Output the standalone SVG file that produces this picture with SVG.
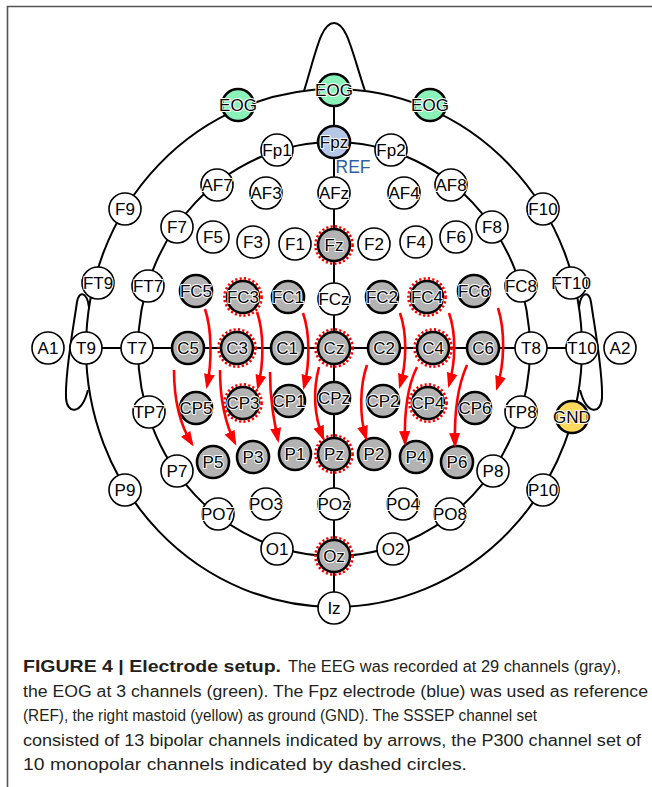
<svg xmlns="http://www.w3.org/2000/svg" width="652" height="787" viewBox="0 0 652 787">
<defs>
<style>
.ln{fill:none;stroke:#000;stroke-width:2}
.nd circle{fill:#fff;stroke:#000;stroke-width:1.6}
.nd.g circle{fill:#b3b3b3;stroke-width:2.6}
.nd.e circle{fill:#8af2b9;stroke-width:2.6}
.nd.b circle{fill:#b4c7e7;stroke-width:2.6}
.nd.y circle{fill:#fdd85e;stroke-width:2.6}
.nd circle.d{fill:none;stroke:#ff0000;stroke-width:2.6;stroke-dasharray:2.2 2.2}
.nd text{font-family:"Liberation Sans",Arial,sans-serif;font-size:17px;text-anchor:middle;fill:#000;stroke:#fff;stroke-width:2;stroke-linejoin:round;paint-order:stroke}
.ar{fill:none;stroke:#ff0000;stroke-width:2.6;marker-end:url(#ah)}
.cap{font-family:"Liberation Sans",Arial,sans-serif;font-size:17.3px;fill:#231f20}
</style>
<marker id="ah" markerUnits="userSpaceOnUse" markerWidth="15" markerHeight="12" viewBox="0 0 15 12" refX="12" refY="6" orient="auto">
<path d="M0,0.5 L15,6 L0,11.5 Z" fill="#ff0000"/>
</marker>
</defs>
<rect width="652" height="787" fill="#fff"/>
<path d="M7.5,787 V6.5 H652" fill="none" stroke="#555" stroke-width="1.6"/>

<g id="connectors">
<ellipse class="ln" cx="334" cy="348" rx="248" ry="259"/>
<ellipse class="ln" cx="334" cy="349" rx="196" ry="207"/>
<line class="ln" x1="334" y1="90" x2="334" y2="608"/>
<line class="ln" x1="86" y1="348" x2="582" y2="348"/>
<path class="ln" d="M304,91 C316,52 321,23 334,23 C347,23 352,52 365,91"/>
<path id="ear-left" class="ln" d="M89,307 C87,292 79,290 77,302 C73,330 65,372 66,398 C67,414 81,416 88,390"/>
<path id="ear-right" class="ln" d="M89,307 C87,292 79,290 77,302 C73,330 65,372 66,398 C67,414 81,416 88,390" transform="translate(668,0) scale(-1,1)"/>
</g>

<g id="nodes">
<g id="n-EOG-l" class="nd e"><circle cx="238" cy="105" r="16"/><text x="238" y="111">EOG</text></g>
<g id="n-EOG-c" class="nd e"><circle cx="334" cy="90" r="16"/><text x="334" y="96">EOG</text></g>
<g id="n-EOG-r" class="nd e"><circle cx="430" cy="105" r="16"/><text x="430" y="111">EOG</text></g>
<g id="n-Fpz" class="nd b"><circle cx="334" cy="142" r="16"/><text x="334" y="148">Fpz</text></g>
<g id="n-Fp1" class="nd"><circle cx="277" cy="150" r="16"/><text x="277" y="156">Fp1</text></g>
<g id="n-Fp2" class="nd"><circle cx="391" cy="150" r="16"/><text x="391" y="156">Fp2</text></g>
<g id="n-AF7" class="nd"><circle cx="217" cy="185" r="16"/><text x="217" y="191">AF7</text></g>
<g id="n-AF3" class="nd"><circle cx="266" cy="193" r="16"/><text x="266" y="199">AF3</text></g>
<g id="n-AFz" class="nd"><circle cx="334" cy="193" r="16"/><text x="334" y="199">AFz</text></g>
<g id="n-AF4" class="nd"><circle cx="404" cy="193" r="16"/><text x="404" y="199">AF4</text></g>
<g id="n-AF8" class="nd"><circle cx="451" cy="185" r="16"/><text x="451" y="191">AF8</text></g>
<g id="n-F9" class="nd"><circle cx="125" cy="209" r="16"/><text x="125" y="215">F9</text></g>
<g id="n-F7" class="nd"><circle cx="177" cy="227" r="16"/><text x="177" y="233">F7</text></g>
<g id="n-F5" class="nd"><circle cx="213" cy="237" r="16"/><text x="213" y="243">F5</text></g>
<g id="n-F3" class="nd"><circle cx="253" cy="242" r="16"/><text x="253" y="248">F3</text></g>
<g id="n-F1" class="nd"><circle cx="295" cy="244" r="16"/><text x="295" y="250">F1</text></g>
<g id="n-Fz" class="nd g"><circle cx="334" cy="245" r="16"/><circle class="d" cx="334" cy="245" r="18.6"/><text x="334" y="251">Fz</text></g>
<g id="n-F2" class="nd"><circle cx="374" cy="244" r="16"/><text x="374" y="250">F2</text></g>
<g id="n-F4" class="nd"><circle cx="416" cy="242" r="16"/><text x="416" y="248">F4</text></g>
<g id="n-F6" class="nd"><circle cx="456" cy="237" r="16"/><text x="456" y="243">F6</text></g>
<g id="n-F8" class="nd"><circle cx="492" cy="227" r="16"/><text x="492" y="233">F8</text></g>
<g id="n-F10" class="nd"><circle cx="543" cy="209" r="16"/><text x="543" y="215">F10</text></g>
<g id="n-FT9" class="nd"><circle cx="98" cy="283" r="16"/><text x="98" y="289">FT9</text></g>
<g id="n-FT7" class="nd"><circle cx="148" cy="286" r="16"/><text x="148" y="292">FT7</text></g>
<g id="n-FC5" class="nd g"><circle cx="196" cy="291" r="16"/><text x="196" y="297">FC5</text></g>
<g id="n-FC3" class="nd g"><circle cx="243" cy="297" r="16"/><circle class="d" cx="243" cy="297" r="18.6"/><text x="243" y="303">FC3</text></g>
<g id="n-FC1" class="nd g"><circle cx="288" cy="297" r="16"/><text x="288" y="303">FC1</text></g>
<g id="n-FCz" class="nd"><circle cx="334" cy="299" r="16"/><text x="334" y="305">FCz</text></g>
<g id="n-FC2" class="nd g"><circle cx="382" cy="297" r="16"/><text x="382" y="303">FC2</text></g>
<g id="n-FC4" class="nd g"><circle cx="427" cy="297" r="16"/><circle class="d" cx="427" cy="297" r="18.6"/><text x="427" y="303">FC4</text></g>
<g id="n-FC6" class="nd g"><circle cx="474" cy="291" r="16"/><text x="474" y="297">FC6</text></g>
<g id="n-FC8" class="nd"><circle cx="521" cy="286" r="16"/><text x="521" y="292">FC8</text></g>
<g id="n-FT10" class="nd"><circle cx="571" cy="283" r="16"/><text x="571" y="289">FT10</text></g>
<g id="n-A1" class="nd"><circle cx="48" cy="348" r="16"/><text x="48" y="354">A1</text></g>
<g id="n-T9" class="nd"><circle cx="86" cy="348" r="16"/><text x="86" y="354">T9</text></g>
<g id="n-T7" class="nd"><circle cx="137" cy="348" r="16"/><text x="137" y="354">T7</text></g>
<g id="n-C5" class="nd g"><circle cx="188" cy="348" r="16"/><text x="188" y="354">C5</text></g>
<g id="n-C3" class="nd g"><circle cx="237" cy="348" r="16"/><circle class="d" cx="237" cy="348" r="18.6"/><text x="237" y="354">C3</text></g>
<g id="n-C1" class="nd g"><circle cx="287" cy="348" r="16"/><text x="287" y="354">C1</text></g>
<g id="n-Cz" class="nd g"><circle cx="334" cy="348" r="16"/><circle class="d" cx="334" cy="348" r="18.6"/><text x="334" y="354">Cz</text></g>
<g id="n-C2" class="nd g"><circle cx="384" cy="348" r="16"/><text x="384" y="354">C2</text></g>
<g id="n-C4" class="nd g"><circle cx="433" cy="348" r="16"/><circle class="d" cx="433" cy="348" r="18.6"/><text x="433" y="354">C4</text></g>
<g id="n-C6" class="nd g"><circle cx="483" cy="348" r="16"/><text x="483" y="354">C6</text></g>
<g id="n-T8" class="nd"><circle cx="531" cy="348" r="16"/><text x="531" y="354">T8</text></g>
<g id="n-T10" class="nd"><circle cx="582" cy="348" r="16"/><text x="582" y="354">T10</text></g>
<g id="n-A2" class="nd"><circle cx="620" cy="348" r="16"/><text x="620" y="354">A2</text></g>
<g id="n-TP7" class="nd"><circle cx="149" cy="412" r="16"/><text x="149" y="418">TP7</text></g>
<g id="n-CP5" class="nd g"><circle cx="196" cy="408" r="16"/><text x="196" y="414">CP5</text></g>
<g id="n-CP3" class="nd g"><circle cx="243" cy="403" r="16"/><circle class="d" cx="243" cy="403" r="18.6"/><text x="243" y="409">CP3</text></g>
<g id="n-CP1" class="nd g"><circle cx="289" cy="401" r="16"/><text x="289" y="407">CP1</text></g>
<g id="n-CPz" class="nd g"><circle cx="334" cy="398" r="16"/><text x="334" y="404">CPz</text></g>
<g id="n-CP2" class="nd g"><circle cx="383" cy="401" r="16"/><text x="383" y="407">CP2</text></g>
<g id="n-CP4" class="nd g"><circle cx="428" cy="403" r="16"/><circle class="d" cx="428" cy="403" r="18.6"/><text x="428" y="409">CP4</text></g>
<g id="n-CP6" class="nd g"><circle cx="475" cy="408" r="16"/><text x="475" y="414">CP6</text></g>
<g id="n-TP8" class="nd"><circle cx="521" cy="412" r="16"/><text x="521" y="418">TP8</text></g>
<g id="n-GND" class="nd y"><circle cx="572" cy="417" r="16"/><text x="572" y="423">GND</text></g>
<g id="n-P9" class="nd"><circle cx="125" cy="490" r="16"/><text x="125" y="496">P9</text></g>
<g id="n-P7" class="nd"><circle cx="177" cy="471" r="16"/><text x="177" y="477">P7</text></g>
<g id="n-P5" class="nd g"><circle cx="213" cy="462" r="16"/><text x="213" y="468">P5</text></g>
<g id="n-P3" class="nd g"><circle cx="253" cy="457" r="16"/><text x="253" y="463">P3</text></g>
<g id="n-P1" class="nd g"><circle cx="295" cy="454" r="16"/><text x="295" y="460">P1</text></g>
<g id="n-Pz" class="nd g"><circle cx="334" cy="454" r="16"/><circle class="d" cx="334" cy="454" r="18.6"/><text x="334" y="460">Pz</text></g>
<g id="n-P2" class="nd g"><circle cx="374" cy="454" r="16"/><text x="374" y="460">P2</text></g>
<g id="n-P4" class="nd g"><circle cx="416" cy="457" r="16"/><text x="416" y="463">P4</text></g>
<g id="n-P6" class="nd g"><circle cx="457" cy="462" r="16"/><text x="457" y="468">P6</text></g>
<g id="n-P8" class="nd"><circle cx="493" cy="471" r="16"/><text x="493" y="477">P8</text></g>
<g id="n-P10" class="nd"><circle cx="543" cy="490" r="16"/><text x="543" y="496">P10</text></g>
<g id="n-PO7" class="nd"><circle cx="218" cy="514" r="16"/><text x="218" y="520">PO7</text></g>
<g id="n-PO3" class="nd"><circle cx="266" cy="504" r="16"/><text x="266" y="510">PO3</text></g>
<g id="n-POz" class="nd"><circle cx="334" cy="504" r="16"/><text x="334" y="510">POz</text></g>
<g id="n-PO4" class="nd"><circle cx="403" cy="504" r="16"/><text x="403" y="510">PO4</text></g>
<g id="n-PO8" class="nd"><circle cx="450" cy="514" r="16"/><text x="450" y="520">PO8</text></g>
<g id="n-O1" class="nd"><circle cx="277" cy="549" r="16"/><text x="277" y="555">O1</text></g>
<g id="n-Oz" class="nd g"><circle cx="334" cy="556" r="16"/><circle class="d" cx="334" cy="556" r="18.6"/><text x="334" y="562">Oz</text></g>
<g id="n-O2" class="nd"><circle cx="393" cy="549" r="16"/><text x="393" y="555">O2</text></g>
<g id="n-Iz" class="nd"><circle cx="334" cy="608" r="16"/><text x="334" y="614">Iz</text></g>
</g>

<text id="ref-label" x="353" y="173" font-family="Liberation Sans, Arial, sans-serif" font-size="17.5" text-anchor="middle" fill="#2f5ea6">REF</text>

<g id="arrows">
<path class="ar" d="M205,309 C212,330 212,362 207,386"/>
<path class="ar" d="M257,312 C264,332 264,363 258,387"/>
<path class="ar" d="M303,313 C310,333 310,363 304,387"/>
<path class="ar" d="M174,370 C174,400 180,425 192,444"/>
<path class="ar" d="M220,370 C220,400 226,425 235,443"/>
<path class="ar" d="M270,372 C270,400 274,420 278,440"/>
<path class="ar" d="M319,367 C313,390 314,415 323,438"/>
<path class="ar" d="M400,313 C407,333 407,362 400,386"/>
<path class="ar" d="M449,313 C456,333 456,360 449,385"/>
<path class="ar" d="M498,308 C505,330 505,362 497,388"/>
<path class="ar" d="M367,365 C360,385 359,415 366,438"/>
<path class="ar" d="M417,367 C408,385 404,410 405,443"/>
<path class="ar" d="M467,365 C458,385 454,410 455,445"/>
</g>

<g id="caption">
<text class="cap" x="23" y="672" font-weight="bold" textLength="258" lengthAdjust="spacingAndGlyphs">FIGURE 4 | Electrode setup.</text>
<text class="cap" x="288" y="672" textLength="333" lengthAdjust="spacingAndGlyphs">The EEG was recorded at 29 channels (gray),</text>
<text class="cap" x="23" y="696.5" textLength="625" lengthAdjust="spacingAndGlyphs">the EOG at 3 channels (green). The Fpz electrode (blue) was used as reference</text>
<text class="cap" x="23" y="721" textLength="514" lengthAdjust="spacingAndGlyphs">(REF), the right mastoid (yellow) as ground (GND). The SSSEP channel set</text>
<text class="cap" x="23" y="745.5" textLength="618" lengthAdjust="spacingAndGlyphs">consisted of 13 bipolar channels indicated by arrows, the P300 channel set of</text>
<text class="cap" x="23" y="770" textLength="444" lengthAdjust="spacingAndGlyphs">10 monopolar channels indicated by dashed circles.</text>
</g>
</svg>
